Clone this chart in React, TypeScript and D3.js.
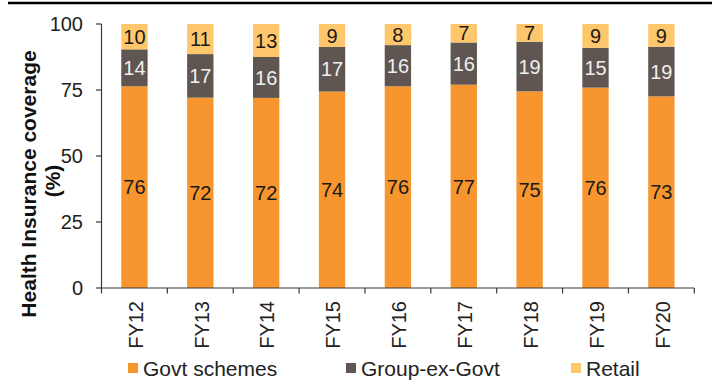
import React from "react";
import * as d3 from "d3";

const categories = ["FY12", "FY13", "FY14", "FY15", "FY16", "FY17", "FY18", "FY19", "FY20"];
const govtSchemes = [76.4, 72.1, 72.0, 74.4, 76.4, 77.0, 74.5, 75.9, 72.6];
const groupExGovt = [14.0, 16.5, 15.5, 16.9, 15.6, 16.0, 18.8, 15.1, 18.8];
const retail = [9.6, 11.4, 12.5, 8.7, 8.0, 7.0, 6.7, 9.0, 8.6];
const yTicks = [0, 25, 50, 75, 100];
const seriesNames = ["Govt schemes", "Group-ex-Govt", "Retail"];

const colors = ["#F7952F", "#5F5651", "#FFC76B"];
const labelColors = ["#1a1a1a", "#f0f0f0", "#1a1a1a"];

export default function App() {
  const W = 715, H = 385;
  const left = 101.5, right = 694.3, top = 24, bottom = 288;
  const x = d3.scaleBand<string>().domain(categories).range([left, right]).paddingInner(0.6).paddingOuter(0.3);
  const xb = d3.scaleBand<string>().domain(categories).range([left, right]);
  const y = d3.scaleLinear().domain([0, 100]).range([bottom, top]);

  const rows = categories.map((c, i) => ({ cat: c, g: govtSchemes[i], gr: groupExGovt[i], r: retail[i] }));
  const stack = d3.stack<any>().keys(["g", "gr", "r"])(rows);
  const font = "'Liberation Sans', Arial, sans-serif";
  const axisColor = "#3a3a3a";

  const legendX = [128, 346, 571];

  return (
    <svg width={W} height={H} style={{ position: "absolute", left: 0, top: 0, background: "#fff" }} fontFamily={font}>
      <line x1={8} x2={712} y1={3} y2={3} stroke="#000" strokeWidth={2.6} />
      {stack.map((s, si) => (
        <g key={si}>
          {s.map((d, i) => (
            <g key={i}>
              <rect x={x(categories[i])} width={x.bandwidth()} y={y(d[1])} height={y(d[0]) - y(d[1])} fill={colors[si]} />
              <text x={x(categories[i])! + x.bandwidth() / 2} y={(y(d[0]) + y(d[1])) / 2} dy="0.36em" textAnchor="middle" fontSize={20} fill={labelColors[si]}>
                {Math.round(d[1] - d[0])}
              </text>
            </g>
          ))}
        </g>
      ))}
      {/* y axis */}
      <line x1={left} x2={left} y1={top} y2={bottom} stroke={axisColor} strokeWidth={1.2} />
      {yTicks.map((t) => (
        <g key={t}>
          <line x1={left - 5.5} x2={left} y1={y(t)} y2={y(t)} stroke={axisColor} strokeWidth={1.2} />
          <text x={83} y={y(t)} dy="0.36em" textAnchor="end" fontSize={20} fill="#222">{t}</text>
        </g>
      ))}
      {/* x axis */}
      <line x1={left} x2={right} y1={bottom} y2={bottom} stroke={axisColor} strokeWidth={1.2} />
      {categories.map((c, i) => (
        <line key={"t" + i} x1={xb(c)} x2={xb(c)} y1={bottom} y2={bottom + 5.5} stroke={axisColor} strokeWidth={1.2} />
      ))}
      <line x1={right} x2={right} y1={bottom} y2={bottom + 5.5} stroke={axisColor} strokeWidth={1.2} />
      {categories.map((c) => (
        <text key={c} transform={`translate(${xb(c)! + xb.bandwidth() / 2 + 1},301) rotate(-90)`} textAnchor="end" dy="0.36em" fontSize={20} fill="#222">{c}</text>
      ))}
      {/* y label */}
      <text transform={`translate(28,184) rotate(-90)`} textAnchor="middle" dy="0.36em" fontSize={21} fontWeight="bold" fill="#111">Health Insurance coverage</text>
      <text transform={`translate(52,181) rotate(-90)`} textAnchor="middle" dy="0.36em" fontSize={21} fontWeight="bold" fill="#111">(%)</text>
      {/* legend */}
      {seriesNames.map((n, i) => (
        <g key={n}>
          <rect x={legendX[i]} y={363} width={10} height={10} fill={colors[i]} />
          <text x={legendX[i] + 15} y={368} dy="0.36em" fontSize={21} fill="#222">{n}</text>
        </g>
      ))}
    </svg>
  );
}
